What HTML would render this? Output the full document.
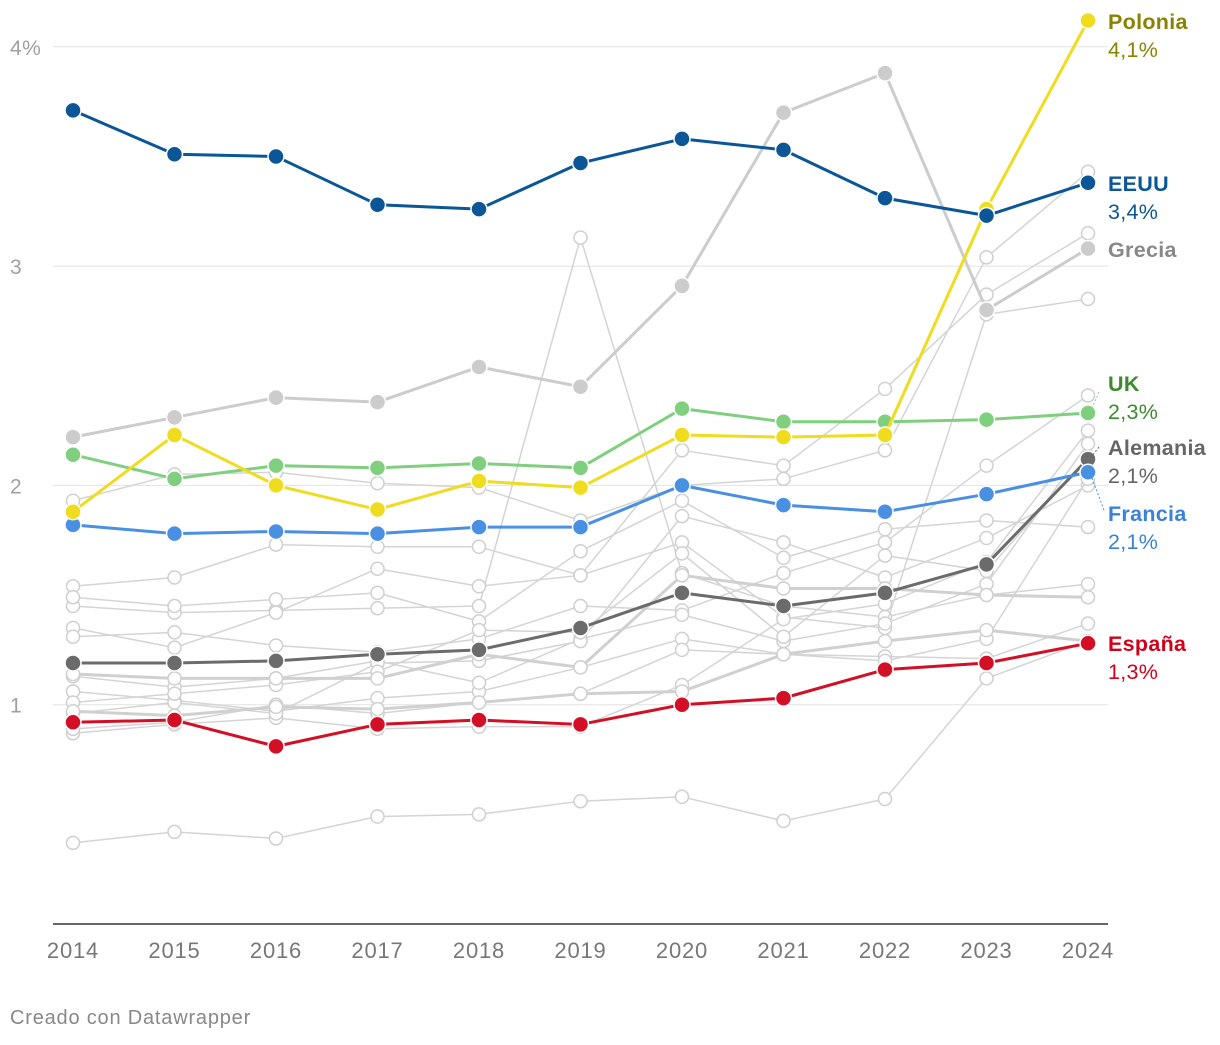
<!DOCTYPE html>
<html><head><meta charset="utf-8"><style>
body{margin:0;background:#fff;font-family:"Liberation Sans",Arial,sans-serif}
svg text{font-family:"Liberation Sans",Arial,sans-serif}
</style></head><body>
<svg id="chart" width="1220" height="1040" xmlns="http://www.w3.org/2000/svg"></svg>
<script>
const years=[2014,2015,2016,2017,2018,2019,2020,2021,2022,2023,2024];
const yTicks=[1,2,3,4];
const eeuu=[3.71,3.51,3.50,3.28,3.26,3.47,3.58,3.53,3.31,3.23,3.38];
const polonia=[1.88,2.23,2.00,1.89,2.02,1.99,2.23,2.22,2.23,3.26,4.12];
const grecia=[2.22,2.31,2.40,2.38,2.54,2.45,2.91,3.70,3.88,2.80,3.08];
const uk=[2.14,2.03,2.09,2.08,2.10,2.08,2.35,2.29,2.29,2.30,2.33];
const francia=[1.82,1.78,1.79,1.78,1.81,1.81,2.00,1.91,1.88,1.96,2.06];
const alemania=[1.19,1.19,1.20,1.23,1.25,1.35,1.51,1.45,1.51,1.64,2.12];
const espana=[0.92,0.93,0.81,0.91,0.93,0.91,1.00,1.03,1.16,1.19,1.28];
const thickGrey1=[1.14,1.12,1.12,1.12,1.23,1.17,1.59,1.53,1.53,1.50,1.49];
const thickGrey2=[0.97,0.95,0.99,0.98,1.01,1.05,1.06,1.23,1.29,1.34,1.29];
const grey1=[0.37,0.42,0.39,0.49,0.50,0.56,0.58,0.47,0.57,1.12,1.29];
const grey2=[1.45,1.42,1.43,1.44,1.45,3.13,1.60,1.45,1.40,1.50,1.55];
const grey3=[1.54,1.58,1.73,1.72,1.72,1.59,2.16,2.09,2.44,2.87,3.15];
const grey4=[1.93,2.05,2.06,2.01,1.99,1.84,2.00,2.03,2.16,3.04,3.43];
const grey5=[1.35,1.26,1.42,1.62,1.54,1.59,1.74,1.40,1.35,2.78,2.85];
const grey6=[1.31,1.33,1.27,1.24,1.30,1.45,1.43,1.60,1.74,2.09,2.41];
const grey7=[1.06,1.02,0.97,1.03,1.06,1.17,1.30,1.23,1.22,1.21,1.37];
const grey8=[0.87,0.91,0.94,0.89,0.90,0.90,1.09,1.39,1.46,1.65,2.25];
const grey9=[1.49,1.45,1.48,1.51,1.38,1.70,1.93,1.67,1.80,1.84,1.81];
const grey10=[1.13,1.08,1.12,1.20,1.10,1.30,1.41,1.29,1.37,1.55,2.19];
const grey11=[0.96,1.01,0.96,1.19,1.20,1.29,1.86,1.74,1.58,1.76,2.00];
const grey12=[1.01,1.05,1.09,1.15,1.34,1.33,1.69,1.31,1.68,1.61,2.13];
const grey13=[0.89,0.92,1.00,0.96,1.01,1.05,1.25,1.23,1.20,1.30,2.03];
const greys=[grey1,grey2,grey3,grey4,grey5,grey6,grey7,grey8,grey9,grey10,grey11,grey12,grey13];
const NS="http://www.w3.org/2000/svg";
const svg=document.getElementById('chart');
const X=i=>73+i*101.5;
const Y=v=>924-v*219.3;
function mk(t,a,p){const e=document.createElementNS(NS,t);for(const k in a)e.setAttribute(k,a[k]);(p||svg).appendChild(e);return e;}
yTicks.forEach(t=>{
 const g=mk('line',{x1:53,x2:1108,y1:Y(t),y2:Y(t),stroke:'#e2e2e2','stroke-width':1});
 
 
 const tx=mk('text',{x:10,y:Y(t)+8,fill:'#a0a0a0','font-size':21,'letter-spacing':0.5});
 tx.textContent=t+(t===4?'%':'');
 
 
});
const ax=mk('line',{x1:53,x2:1108,y1:924,y2:924,stroke:'#333','stroke-width':1.5});


years.forEach((y,i)=>{
 const t=mk('text',{x:X(i),y:958,fill:'#777','font-size':22,'letter-spacing':0.8,'text-anchor':'middle'});
 t.textContent=y;
 
 
});
function series(vals,name,color,w,r,open){
 const g=mk('g',{});
 
 
 mk('polyline',{points:vals.map((v,i)=>X(i)+','+Y(v)).join(' '),fill:'none',stroke:color,'stroke-width':w,'stroke-linejoin':'round'},g);
 vals.forEach((v,i)=>{
  const c=mk('circle',{cx:X(i),cy:Y(v),r:r,fill:open?'#fff':color,stroke:open?'#cfcfcf':'#fff','stroke-width':1.5},g);
  
  
 });
}
greys.forEach((s,k)=>series(s,'grey-series-'+(k+1),'#d4d4d4',1.5,6.5,true));
series(thickGrey1,'grey-thick-1','#d0d0d0',3,6.5,true);
series(thickGrey2,'grey-thick-2','#d0d0d0',3,6.5,true);
series(grecia,'grecia-line','#cccccc',3,8,false);
series(espana,'espana-line','#d30f26',3,8,false);
series(alemania,'alemania-line','#6b6b6b',3,8,false);
series(francia,'francia-line','#4a90e2',3,8,false);
series(uk,'uk-line','#7fcf7f',3,8,false);
series(polonia,'polonia-line','#f0dc1e',3,8,false);
series(eeuu,'eeuu-line','#0b5696',3,8,false);
function label(name,val,y,color,key){
 const a=mk('text',{x:1108,y:y,fill:color,'font-size':21.5,'font-weight':'bold','letter-spacing':0.3});a.textContent=name;
 
 
 const b=mk('text',{x:1108,y:y+28,fill:color,'font-size':21.5,'letter-spacing':0.3});b.textContent=val;
 
 
}
label('Polonia','4,1%',29,'#8a8200','polonia');
label('EEUU','3,4%',191,'#0b5696','eeuu');
const gl=mk('text',{x:1108,y:257,fill:'#888','font-size':21.5,'font-weight':'bold','letter-spacing':0.3});gl.textContent='Grecia';


label('UK','2,3%',391,'#3d8a2e','uk');
label('Alemania','2,1%',455,'#666666','alemania');
label('Francia','2,1%',521,'#3b82d6','francia');
label('España','1,3%',651,'#d0021b','espana');
mk('line',{x1:1099,y1:392,x2:1092,y2:408,stroke:'#7fcf7f','stroke-dasharray':'2,2'});
mk('line',{x1:1099,y1:447,x2:1092,y2:456,stroke:'#6b6b6b','stroke-dasharray':'2,2'});
mk('line',{x1:1104,y1:510,x2:1092,y2:478,stroke:'#4a90e2','stroke-dasharray':'2,2'});
const cr=mk('text',{x:10,y:1024,fill:'#888','font-size':20,'letter-spacing':0.8});cr.textContent='Creado con Datawrapper';


</script>
</body></html>
